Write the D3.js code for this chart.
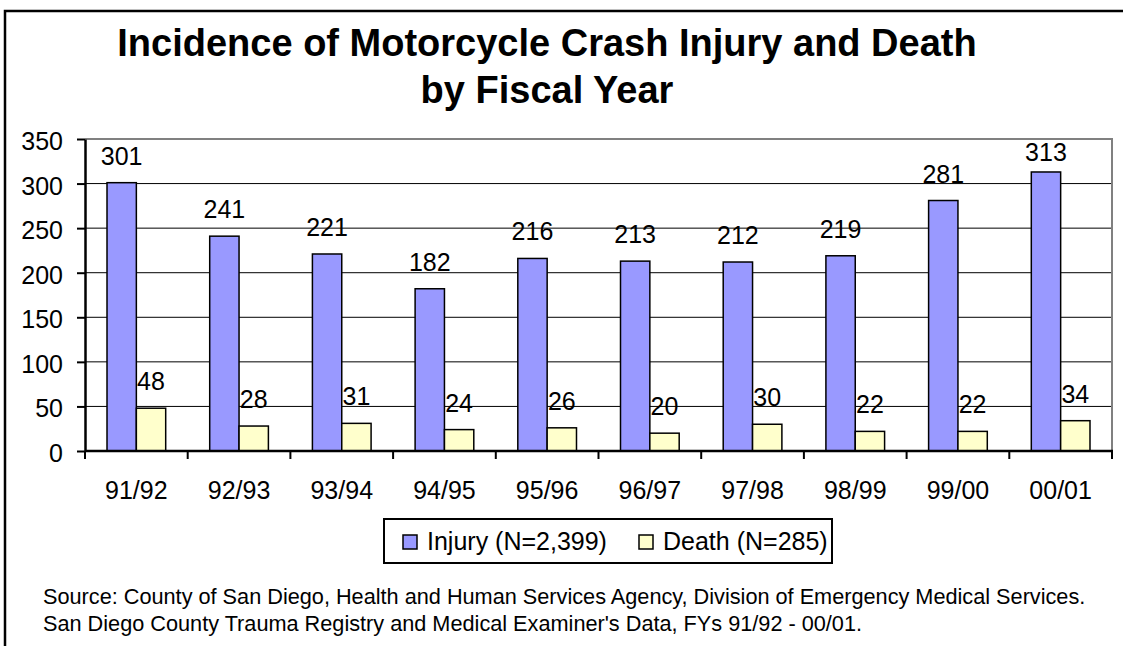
<!DOCTYPE html>
<html>
<head>
<meta charset="utf-8">
<script src="https://cdn.jsdelivr.net/npm/d3@7/dist/d3.min.js"></script>
<style>
  html, body { margin: 0; padding: 0; background: #fff; }
  svg { display: block; font-family: "Liberation Sans", Arial, sans-serif; }
</style>
</head>
<body>
<svg id="chart" width="1123" height="646"></svg>
<script>
// Fiscal years and case counts
const years = ["91/92", "92/93", "93/94", "94/95", "95/96", "96/97", "97/98", "98/99", "99/00", "00/01"];
const injury = [301, 241, 221, 182, 216, 213, 212, 219, 281, 313];
const death = [48, 28, 31, 24, 26, 20, 30, 22, 22, 34];
const yTicks = [0, 50, 100, 150, 200, 250, 300, 350];
const seriesNames = ["Injury (N=2,399)", "Death (N=285)"];
const seriesColors = ["#9999FF", "#FFFFCC"];

const svg = d3.select("#chart");
const W = 1123, H = 646;
const plot = { left: 85, right: 1112, top: 139, bottom: 451 };
const FS = 25;

// outer frame (runs past the right and bottom edges)
svg.append("path")
  .attr("d", `M5,${H + 5} L5,11 L${W + 5},11`)
  .attr("fill", "none").attr("stroke", "#000").attr("stroke-width", 2.5);

// title
const title = svg.append("text")
  .attr("text-anchor", "middle")
  .attr("font-weight", "bold")
  .attr("font-size", 38)
  .attr("fill", "#000");
title.append("tspan").attr("x", 547).attr("y", 56).text("Incidence of Motorcycle Crash Injury and Death");
title.append("tspan").attr("x", 547).attr("y", 103).text("by Fiscal Year");

const x = d3.scaleBand().domain(years).range([plot.left, plot.right]).paddingInner(0).paddingOuter(0);
const y = d3.scaleLinear().domain([0, 350]).range([plot.bottom, plot.top]);
const bw = x.step() / 3.5;

// horizontal gridlines
svg.append("g")
  .selectAll("line")
  .data(yTicks.filter(t => t > 0 && t < 350))
  .join("line")
  .attr("x1", plot.left).attr("x2", plot.right)
  .attr("y1", d => y(d)).attr("y2", d => y(d))
  .attr("stroke", "#000").attr("stroke-width", 1);

// plot area border (top and right)
svg.append("path")
  .attr("d", `M${plot.left},${y(350)} L${plot.right},${y(350)} L${plot.right},${plot.bottom}`)
  .attr("fill", "none").attr("stroke", "#808080").attr("stroke-width", 2);

// bars
const series = [injury, death];
series.forEach((vals, si) => {
  svg.append("g")
    .selectAll("rect")
    .data(years)
    .join("rect")
    .attr("x", (d) => x(d) + x.step() / 2 - bw + si * bw)
    .attr("y", (d, i) => y(vals[i]))
    .attr("width", bw)
    .attr("height", (d, i) => y(0) - y(vals[i]))
    .attr("fill", seriesColors[si])
    .attr("stroke", "#000").attr("stroke-width", 1.5);
});

// value labels
series.forEach((vals, si) => {
  svg.append("g")
    .selectAll("text")
    .data(years)
    .join("text")
    .attr("x", d => x(d) + x.step() / 2 - bw / 2 + si * bw)
    .attr("y", (d, i) => Math.max(y(vals[i]) - 18, plot.top + 22))
    .attr("text-anchor", "middle")
    .attr("font-size", FS)
    .attr("fill", "#000")
    .text((d, i) => vals[i]);
});

// y axis
const yAxis = d3.axisLeft(y).tickValues(yTicks).tickSize(8).tickPadding(14).tickSizeOuter(0);
const gy = svg.append("g").attr("transform", `translate(${plot.left},0)`).call(yAxis);
gy.select(".domain").attr("stroke", "#000").attr("stroke-width", 2.5);
gy.selectAll(".tick line").attr("stroke", "#000").attr("stroke-width", 2);
gy.selectAll(".tick text")
  .attr("font-size", FS).attr("font-family", "Liberation Sans, Arial, sans-serif")
  .attr("fill", "#000").attr("dy", "0.42em");

// x axis: ticks on category boundaries
const gx = svg.append("g").attr("transform", `translate(0,${plot.bottom})`);
gx.append("line")
  .attr("x1", plot.left).attr("x2", plot.right + 1)
  .attr("stroke", "#000").attr("stroke-width", 2.5);
const bounds = years.map(d => x(d)).concat([plot.right]);
gx.selectAll("line.tk")
  .data(bounds)
  .join("line")
  .attr("class", "tk")
  .attr("x1", d => d).attr("x2", d => d)
  .attr("y1", 0).attr("y2", 8)
  .attr("stroke", "#000").attr("stroke-width", 2);
gx.selectAll("text")
  .data(years)
  .join("text")
  .attr("x", d => x(d) + x.step() / 2)
  .attr("y", 48)
  .attr("text-anchor", "middle")
  .attr("font-size", FS)
  .attr("fill", "#000")
  .text(d => d);

// legend
const lg = svg.append("g");
lg.append("rect")
  .attr("x", 384).attr("y", 519).attr("width", 448).attr("height", 44)
  .attr("fill", "#fff").attr("stroke", "#000").attr("stroke-width", 2);
const legendX = [403, 639];
seriesNames.forEach((name, i) => {
  lg.append("rect")
    .attr("x", legendX[i]).attr("y", 535).attr("width", 14).attr("height", 14)
    .attr("fill", seriesColors[i]).attr("stroke", "#000").attr("stroke-width", 1.5);
  lg.append("text")
    .attr("x", legendX[i] + 24).attr("y", 550)
    .attr("font-size", FS).attr("fill", "#000")
    .text(name);
});

// source note
const src = svg.append("text").attr("font-size", 21.7).attr("fill", "#000");
src.append("tspan").attr("x", 43).attr("y", 604)
  .text("Source: County of San Diego, Health and Human Services Agency, Division of Emergency Medical Services.");
src.append("tspan").attr("x", 43).attr("y", 631)
  .text("San Diego County Trauma Registry and Medical Examiner's Data, FYs 91/92 - 00/01.");
</script>
</body>
</html>
